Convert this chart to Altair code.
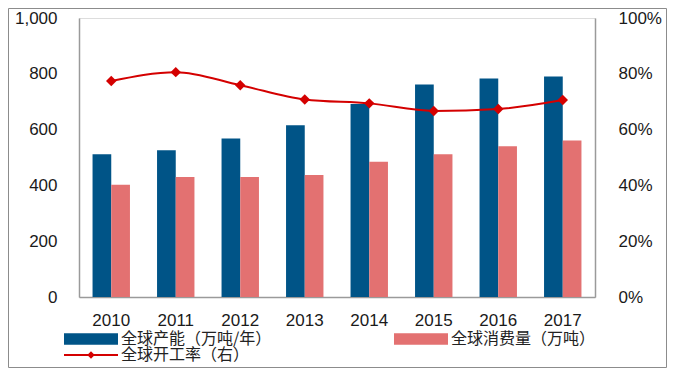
import altair as alt
import pandas as pd

years = ["2010", "2011", "2012", "2013", "2014", "2015", "2016", "2017"]
capacity = [512, 526, 568, 616, 692, 762, 783, 790]
consumption = [402, 430, 430, 437, 485, 512, 540, 561]
rate = [0.774, 0.806, 0.759, 0.708, 0.694, 0.667, 0.674, 0.706]

s_cap = "全球产能（万吨/年）"
s_con = "全球消费量（万吨）"
s_rate = "全球开工率（右）"
series_names = [s_cap, s_con, s_rate]
colors = ["#005487", "#E37171", "#D40000"]

bar_df = pd.DataFrame(
    {"year": years * 2,
     "series": [s_cap] * len(years) + [s_con] * len(years),
     "value": capacity + consumption}
)
line_df = pd.DataFrame({"year": years, "rate": rate, "series": [s_rate] * len(years)})
legend_df = pd.DataFrame({"series": series_names})
frame_df = pd.DataFrame({"k": [0]})

color_scale = alt.Scale(domain=series_names, range=colors)
bar_sym = "M-4.5,-0.95H4.5V0.95H-4.5Z"
line_sym = "M-4.5,-0.17H4.5V0.17H-4.5Z M0,-0.62L0.62,0L0,0.62L-0.62,0Z"
shape_scale = alt.Scale(domain=series_names, range=[bar_sym, bar_sym, line_sym])

leg = alt.Legend(
    title=None, orient="none", legendX=4, legendY=313, columns=2, direction="horizontal",
    symbolSize=144, symbolStrokeWidth=0, symbolOpacity=1, labelOffset=22,
    columnPadding=122, rowPadding=0, padding=0,
    labelFont="Noto Sans CJK SC", labelFontSize=16, labelColor="#222222",
    labelLimit=400,
)

x_enc = alt.X(
    "year:N",
    sort=years,
    scale=alt.Scale(paddingInner=0.42, paddingOuter=0.21),
    axis=alt.Axis(title=None, labelAngle=0, ticks=False, labelPadding=15,
                  labelFontSize=17, labelFont="Liberation Sans", labelColor="#1a1a1a",
                  domainColor="#9a9a9a", domainWidth=1.5),
)

bars = alt.Chart(bar_df).mark_bar().encode(
    x=x_enc,
    xOffset=alt.XOffset("series:N", sort=[s_cap, s_con]),
    y=alt.Y("value:Q", scale=alt.Scale(domain=[0, 1000]),
            axis=alt.Axis(title=None, values=[0, 200, 400, 600, 800, 1000], format=",.0f",
                          ticks=False, labelPadding=22, labelFontSize=17,
                          labelFont="Liberation Sans", labelColor="#1a1a1a",
                          domainColor="#9a9a9a", domainWidth=1.5, grid=False)),
    color=alt.Color("series:N", scale=color_scale, legend=leg),
)

line = alt.Chart(line_df).mark_line(
    interpolate="monotone", color="#D40000", strokeWidth=2,
    point=alt.OverlayMarkDef(shape="diamond", size=110, filled=True, color="#D40000"),
).encode(
    x=alt.X("year:N", sort=years),
    y=alt.Y("rate:Q", scale=alt.Scale(domain=[0, 1]),
            axis=alt.Axis(title=None, orient="right", values=[0, 0.2, 0.4, 0.6, 0.8, 1.0],
                          format=".0%", ticks=False, labelPadding=23, labelFontSize=17,
                          labelFont="Liberation Sans", labelColor="#1a1a1a",
                          domainColor="#9a9a9a", domainWidth=1.5, grid=False)),
)

legend_layer = alt.Chart(legend_df).mark_point(filled=True, opacity=0).encode(
    color=alt.Color("series:N", scale=color_scale, legend=leg),
    shape=alt.Shape("series:N", scale=shape_scale, legend=leg),
)

frame = alt.Chart(frame_df).mark_rect(filled=False, stroke="#8c8c8c", strokeWidth=1).encode(
    x=alt.value(-70.5), x2=alt.value(587.5), y=alt.value(-9.5), y2=alt.value(349.5)
)

chart = alt.layer(bars, line, legend_layer, frame).resolve_scale(
    y="independent"
).properties(
    width=516, height=279,
    autosize=alt.AutoSizeParams(type="none"),
    padding={"left": 71, "top": 10, "right": 72, "bottom": 71},
).configure_view(stroke=None).configure(background="white")

chart.save("out.html", embed_options={"renderer": "svg", "actions": False})
